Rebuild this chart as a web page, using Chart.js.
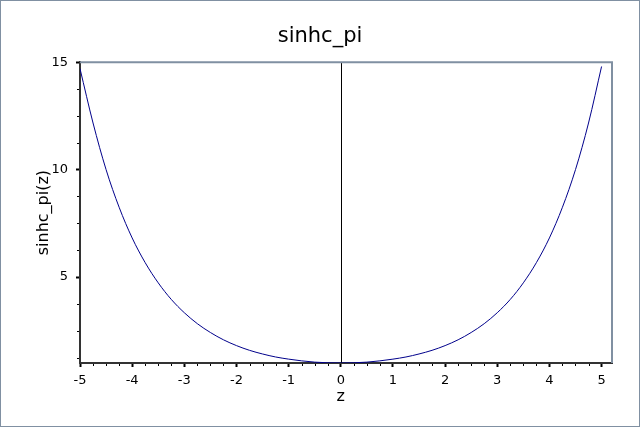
<!DOCTYPE html>
<html>
<head>
<meta charset="utf-8">
<script src="https://cdn.jsdelivr.net/npm/chart.js@4/dist/chart.umd.min.js"></script>
<style>
  html, body { margin: 0; padding: 0; background: #fff; }
  #wrap { width: 640px; height: 427px; }
</style>
</head>
<body>
<div id="wrap"><canvas id="chart" width="640" height="427"></canvas></div>
<script>
// values, z from -5 to 5 in steps of 0.25
const zValues = [
  -5, -4.75, -4.5, -4.25, -4, -3.75, -3.5, -3.25, -3, -2.75, -2.5, -2.25, -2, -1.75, -1.5, -1.25, -1, -0.75, -0.5, -0.25,
  0, 0.25, 0.5, 0.75, 1, 1.25, 1.5, 1.75, 2, 2.25, 2.5, 2.75, 3, 3.25, 3.5, 3.75, 4, 4.25, 4.5, 4.75, 5
];
const sinhcValues = [
  14.7, 12.17, 10.00, 8.25, 6.82, 5.67, 4.73, 3.96, 3.34, 2.83, 2.42, 2.08, 1.81, 1.59, 1.42, 1.28, 1.18, 1.10, 1.04, 1.01,
  1.00, 1.01, 1.04, 1.10, 1.18, 1.28, 1.42, 1.59, 1.81, 2.08, 2.42, 2.83, 3.34, 3.96, 4.73, 5.67, 6.82, 8.25, 10.00, 12.17, 14.8
];
const xTicks = [-5, -4, -3, -2, -1, 0, 1, 2, 3, 4, 5];
const yTicks = [5, 10, 15];
const xMinorStep = 0.25;
const yMinorStep = 1.25;

const FONT = 'DejaVu Sans, Verdana, sans-serif';

// frame, origin line, minor ticks, x label and outer border
const decor = {
  id: 'decor',
  beforeDatasetsDraw(chart) {
    const { ctx, chartArea: a, scales: { x } } = chart;
    ctx.save();
    ctx.strokeStyle = '#000';
    ctx.lineWidth = 1;
    const x0 = Math.round(x.getPixelForValue(0)) + 0.5;
    ctx.beginPath();
    ctx.moveTo(x0, a.top);
    ctx.lineTo(x0, a.bottom);
    ctx.stroke();
    ctx.restore();
  },
  afterDraw(chart) {
    const { ctx, chartArea: a, scales: { x, y } } = chart;
    ctx.save();
    // top and right frame
    ctx.strokeStyle = '#8090a2';
    ctx.lineWidth = 2;
    ctx.beginPath();
    ctx.moveTo(a.left, a.top);
    ctx.lineTo(a.right, a.top);
    ctx.lineTo(a.right, a.bottom);
    ctx.stroke();
    // minor ticks
    ctx.strokeStyle = '#000';
    ctx.lineWidth = 1;
    ctx.beginPath();
    for (let v = -5; v <= 5.0001; v += xMinorStep) {
      if (Math.abs(v - Math.round(v)) < 1e-6) continue;
      const px = Math.round(x.getPixelForValue(v)) + 0.5;
      ctx.moveTo(px, a.bottom + 1);
      ctx.lineTo(px, a.bottom + 3);
    }
    for (let v = 5 - 3 * yMinorStep; v <= 15.0001; v += yMinorStep) {
      if (Math.abs(v / 5 - Math.round(v / 5)) < 1e-6) continue;
      if (v < y.min) continue;
      const py = Math.round(y.getPixelForValue(v)) + 0.5;
      ctx.moveTo(a.left - 1, py);
      ctx.lineTo(a.left - 3, py);
    }
    ctx.stroke();
    // x axis label, centred on the tick range
    ctx.fillStyle = '#000';
    ctx.font = '16px ' + FONT;
    ctx.textAlign = 'center';
    ctx.textBaseline = 'middle';
    ctx.fillText('z', x.getPixelForValue(0), 397);
    // outer border
    ctx.strokeStyle = '#8090a2';
    ctx.lineWidth = 1;
    ctx.strokeRect(0.5, 0.5, chart.width - 1, chart.height - 1);
    ctx.restore();
  }
};

new Chart(document.getElementById('chart'), {
  type: 'line',
  data: {
    datasets: [{
      data: zValues.map((z, i) => ({ x: z, y: sinhcValues[i] })),
      borderColor: '#00008b',
      borderWidth: 1,
      pointRadius: 0,
      cubicInterpolationMode: 'monotone',
      fill: false
    }]
  },
  options: {
    responsive: false,
    animation: false,
    layout: { padding: 0 },
    plugins: {
      legend: { display: false },
      tooltip: { enabled: false },
      title: {
        display: true,
        text: 'sinhc_pi',
        color: '#000',
        font: { family: FONT, size: 21, weight: 'normal' },
        padding: { top: 24, bottom: 13 }
      }
    },
    scales: {
      x: {
        type: 'linear',
        min: -5,
        max: 5.2,
        afterBuildTicks(s) { s.ticks = xTicks.map(v => ({ value: v })); },
        afterFit(s) { s.height = 64; },
        grid: { drawOnChartArea: false, drawTicks: true, tickLength: 4, tickWidth: 2, tickColor: '#000' },
        border: { color: '#333', width: 2 },
        ticks: { color: '#000', font: { family: FONT, size: 13 }, padding: 6, maxRotation: 0, autoSkip: false }
      },
      y: {
        type: 'linear',
        min: 1,
        max: 15,
        afterBuildTicks(s) { s.ticks = yTicks.map(v => ({ value: v })); },
        afterFit(s) { s.width = 80; },
        grid: { drawOnChartArea: false, drawTicks: true, tickLength: 4, tickWidth: 2, tickColor: '#000' },
        border: { color: '#333', width: 2 },
        ticks: { color: '#000', font: { family: FONT, size: 13 }, padding: 8, autoSkip: false },
        title: { display: true, text: 'sinhc_pi(z)', color: '#000', font: { family: FONT, size: 16 }, padding: { top: 34 } }
      },
      yRight: {
        type: 'linear',
        position: 'right',
        afterFit(s) { s.width = 28; },
        grid: { display: false },
        border: { display: false },
        ticks: { display: false }
      }
    }
  },
  plugins: [decor]
});
</script>
</body>
</html>
